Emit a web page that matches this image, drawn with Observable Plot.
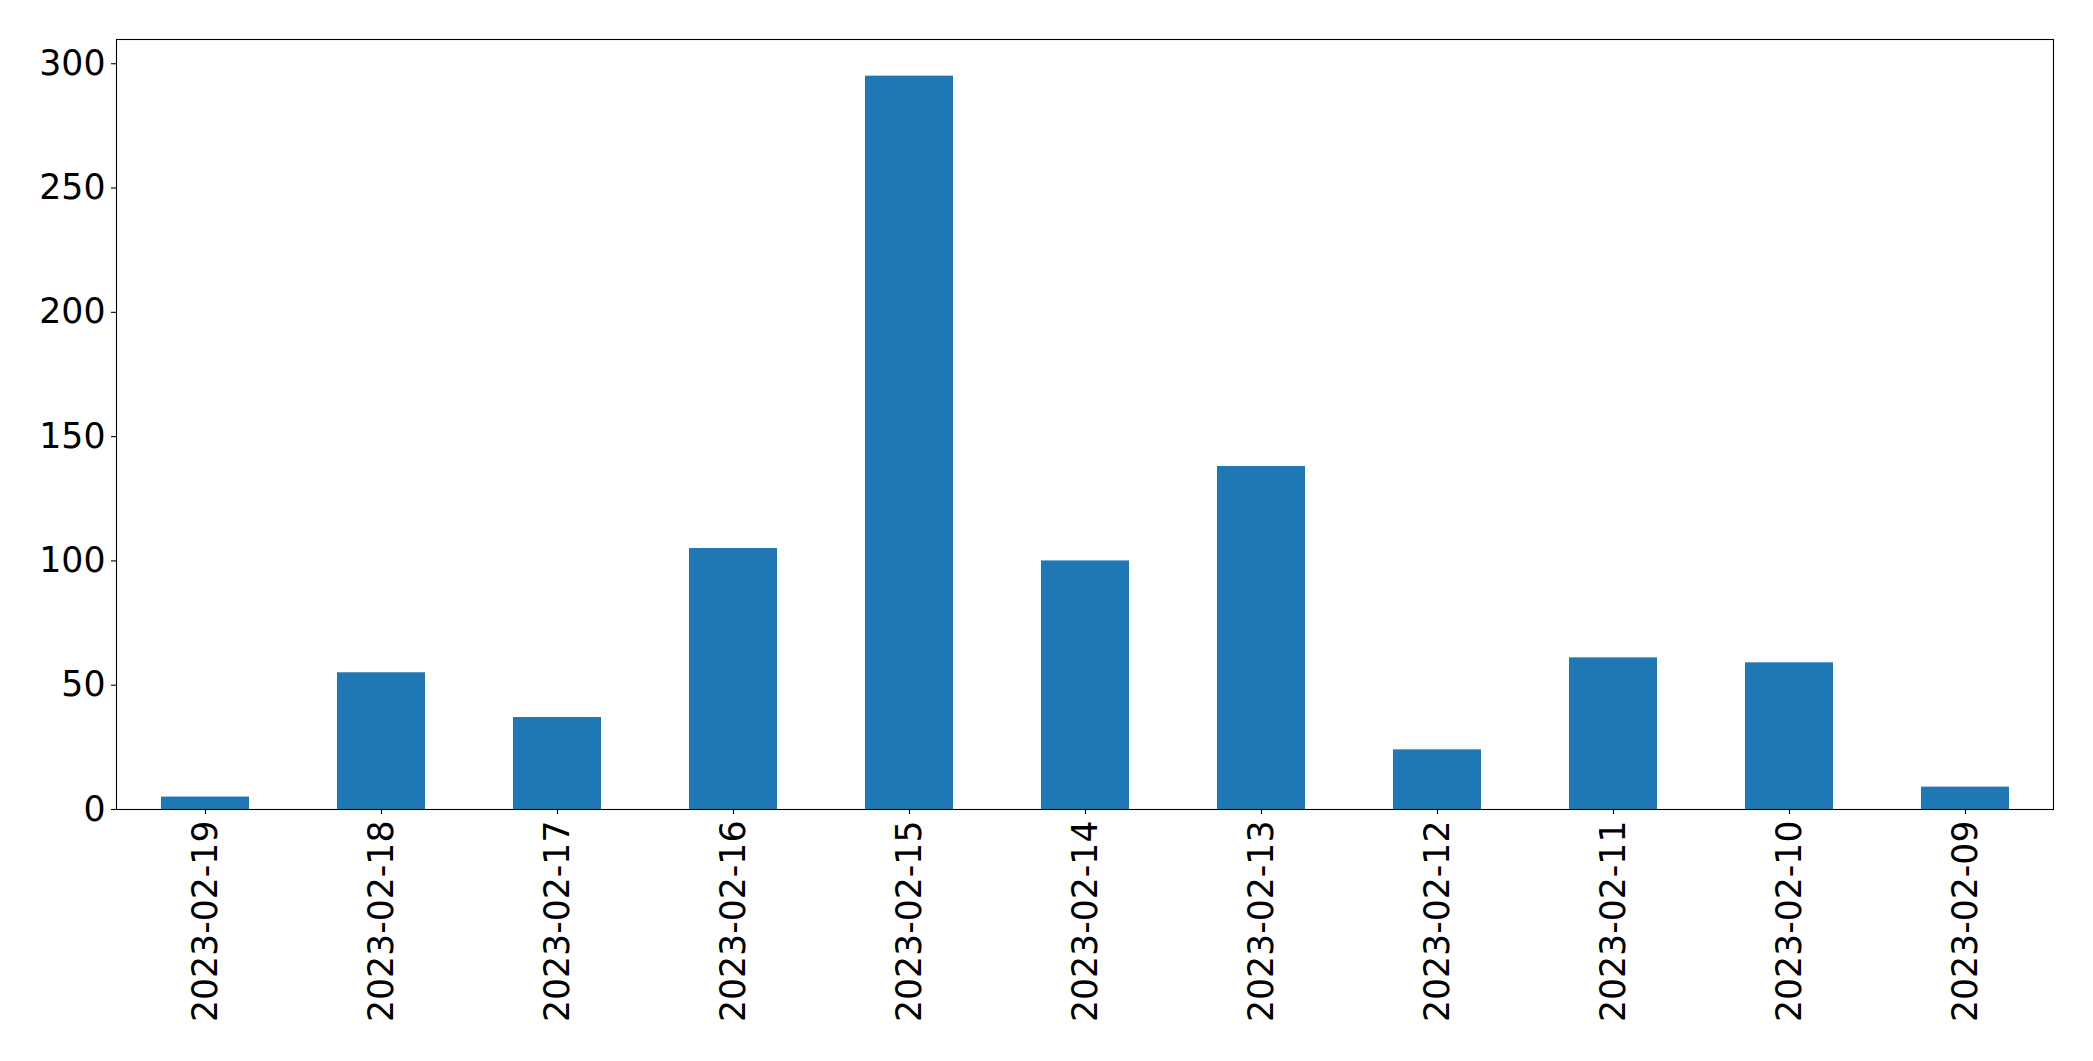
<!DOCTYPE html>
<html>
<head>
<meta charset="utf-8">
<script src="https://cdn.jsdelivr.net/npm/d3@7"></script>
<script src="https://cdn.jsdelivr.net/npm/@observablehq/plot@0.6"></script>
<style>
  html, body { margin: 0; padding: 0; background: #fff; }
  svg { display: block; }
</style>
</head>
<body>
<div id="chart"></div>
<script>
const dates = ["2023-02-19","2023-02-18","2023-02-17","2023-02-16","2023-02-15","2023-02-14","2023-02-13","2023-02-12","2023-02-11","2023-02-10","2023-02-09"];
const counts = [5, 55, 37, 105, 295, 100, 138, 24, 61, 59, 9];
const yTicks = [0, 50, 100, 150, 200, 250, 300];

const data = dates.map((d, i) => ({date: d, count: counts[i]}));
const yMax = d3.max(counts) * 1.05;

const chart = Plot.plot({
  width: 2093,
  height: 1061,
  marginLeft: 116,
  marginRight: 40,
  marginTop: 39,
  marginBottom: 252,
  style: {fontFamily: "DejaVu Sans", fontSize: "34.7px", color: "#000", background: "#fff"},
  x: {domain: dates, paddingInner: 0.5, paddingOuter: 0.25, align: 0.5, label: null},
  y: {domain: [0, yMax], label: null},
  marks: [
    Plot.barY(data, {x: "date", y: "count", fill: "#1f77b4"}),
    Plot.frame({stroke: "#000", strokeWidth: 1.1}),
    Plot.axisY({ticks: yTicks, tickSize: 5, tickPadding: 6, fontSize: 34.7, label: null, stroke: "#000", strokeWidth: 1.1}),
    Plot.axisX({tickSize: 5, tickPadding: 6, tickRotate: -90, fontSize: 34.7, label: null, stroke: "#000", strokeWidth: 1.1})
  ]
});
document.getElementById("chart").appendChild(chart);
</script>
</body>
</html>
